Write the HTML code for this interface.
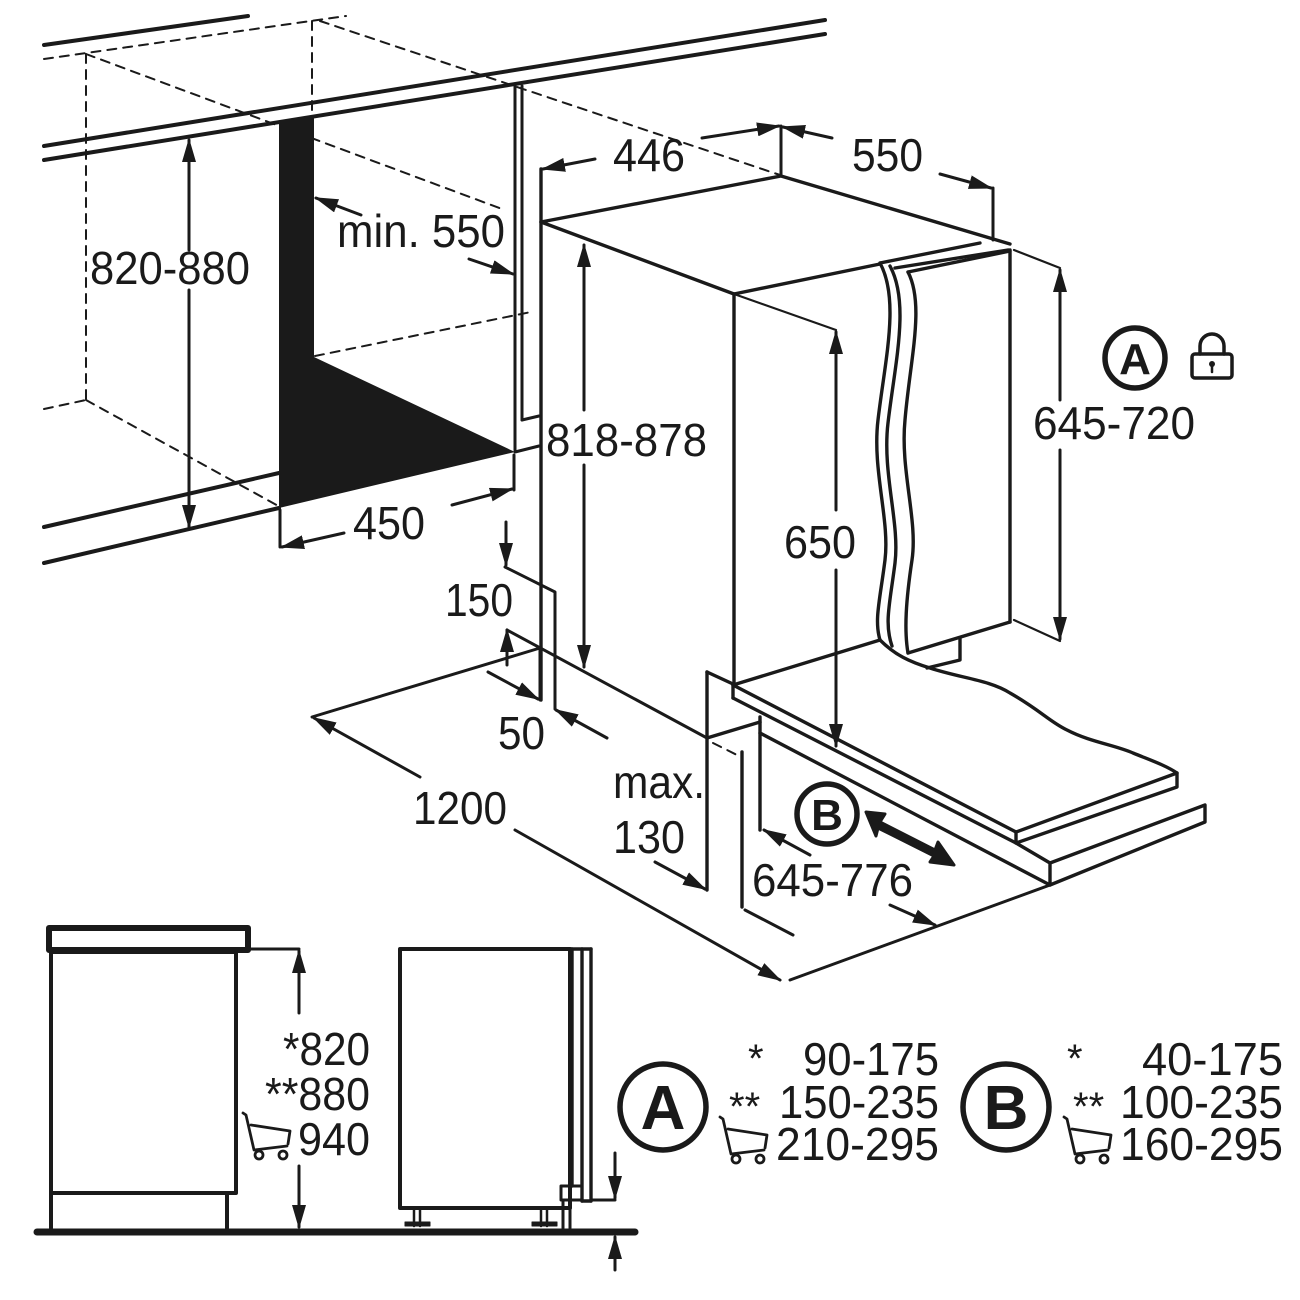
<!DOCTYPE html>
<html><head><meta charset="utf-8"><style>
html,body{margin:0;padding:0;background:#fff}
svg{display:block}
text{font-family:"Liberation Sans",sans-serif;fill:#1a1a1a}
</style></head><body>
<svg width="1300" height="1300" viewBox="0 0 1300 1300" xmlns="http://www.w3.org/2000/svg">
<defs>
<marker id="a" markerWidth="24" markerHeight="14" refX="22" refY="7" orient="auto" markerUnits="userSpaceOnUse">
<path d="M0,0 L24,7 L0,14 Z" fill="#1a1a1a"/></marker>
</defs>
<g stroke="#1a1a1a" fill="none" stroke-linecap="round" stroke-linejoin="round">
<line x1="44" y1="45" x2="248" y2="16" stroke-width="4"/>
<line x1="44" y1="146" x2="825" y2="20" stroke-width="4"/>
<line x1="44" y1="160" x2="825" y2="34" stroke-width="4"/>
<g stroke-width="2" stroke-dasharray="9,7">
<line x1="44" y1="59" x2="346" y2="16"/>
<line x1="86" y1="54" x2="86" y2="400"/>
<line x1="86" y1="54" x2="502" y2="209"/>
<line x1="312" y1="21" x2="312" y2="119"/>
<line x1="320" y1="21" x2="780" y2="175"/>
<line x1="44" y1="409" x2="86" y2="400"/>
<line x1="86" y1="400" x2="282" y2="508"/>
<line x1="315" y1="356" x2="531" y2="312"/>
<line x1="713" y1="743" x2="737" y2="755"/>
</g>
<polygon points="279,122 314,117 314,357 515,452 279,508" fill="#1a1a1a" stroke="none"/>
<line x1="44" y1="527" x2="279" y2="473" stroke-width="4"/>
<line x1="515" y1="452" x2="539" y2="446" stroke-width="3"/>
<line x1="44" y1="563" x2="279" y2="508" stroke-width="4"/>
<line x1="515" y1="84" x2="515" y2="450" stroke-width="3"/>
<line x1="522" y1="86" x2="522" y2="420" stroke-width="3"/>
<line x1="522" y1="420" x2="539" y2="416" stroke-width="3"/>
<g stroke-width="3">
<line x1="189" y1="250" x2="189" y2="140" marker-end="url(#a)"/>
<line x1="189" y1="290" x2="189" y2="527" marker-end="url(#a)"/>
<line x1="361" y1="215" x2="316" y2="198" marker-end="url(#a)"/>
<line x1="469" y1="259" x2="513" y2="274" marker-end="url(#a)"/>
<line x1="280" y1="510" x2="280" y2="547"/>
<line x1="344" y1="533" x2="282" y2="547" marker-end="url(#a)"/>
<line x1="514" y1="455" x2="514" y2="490"/>
<line x1="452" y1="505" x2="512" y2="489" marker-end="url(#a)"/>
</g>
<g stroke-width="3.4">
<polyline points="541,169 541,700"/>
<polyline points="541,222 781,176 1010,244"/>
<polyline points="541,222 734,294 880,264"/>
<line x1="734" y1="294" x2="734" y2="685"/>
<line x1="733" y1="685" x2="880" y2="640"/>
<line x1="1010" y1="250" x2="1010" y2="622"/>
<line x1="908" y1="653" x2="1010" y2="622"/>
<polyline points="960,638 960,660 927,668"/>
<line x1="880" y1="263" x2="980" y2="243"/>
<line x1="895" y1="268" x2="1008" y2="250"/>
<line x1="908" y1="272" x2="1010" y2="251"/>
<path d="M880,263 C900,300 885,360 878,420 C872,470 890,520 885,560 C880,600 874,620 880,640"/>
<path d="M890,266 C910,303 895,363 888,423 C882,473 900,523 895,563 C890,603 884,623 892,646"/>
<path d="M908,272 C925,305 910,360 905,420 C900,470 918,520 912,560 C906,600 904,630 908,653"/>
<line x1="733" y1="685" x2="1016" y2="832"/>
<line x1="733" y1="698" x2="1016" y2="843"/>
<line x1="733" y1="685" x2="733" y2="698"/>
<path d="M880,640 C895,655 910,662 930,668 C960,678 990,680 1010,693 C1040,710 1050,722 1067,730 C1090,742 1115,745 1133,753 C1150,760 1165,765 1177,773"/>
<polyline points="1016,832 1177,773 1177,787 1016,843 1016,832"/>
<polyline points="1016,843 1050,863 1205,805 1205,822 1050,885 1050,863"/>
<line x1="760" y1="733" x2="1050" y2="885"/>
<line x1="760" y1="717" x2="760" y2="830"/>
<polyline points="707,672 733,684"/>
<line x1="707" y1="672" x2="707" y2="890"/>
<line x1="707" y1="738" x2="760" y2="722"/>
<line x1="742" y1="752" x2="742" y2="907"/>
</g>
<g stroke-width="3">
<line x1="507" y1="630" x2="707" y2="738"/>
<polyline points="505,567 555,592 555,709"/>
<line x1="312" y1="717" x2="540" y2="648"/>
<line x1="540" y1="648" x2="540" y2="700"/>
<line x1="506" y1="522" x2="506" y2="565" marker-end="url(#a)"/>
<line x1="507" y1="665" x2="507" y2="630" marker-end="url(#a)"/>
<line x1="488" y1="672" x2="538" y2="699" marker-end="url(#a)"/>
<line x1="607" y1="738" x2="556" y2="710" marker-end="url(#a)"/>
<line x1="420" y1="777" x2="314" y2="718" marker-end="url(#a)"/>
<line x1="515" y1="830" x2="780" y2="980" marker-end="url(#a)"/>
<line x1="790" y1="980" x2="1050" y2="885"/>
<line x1="655" y1="862" x2="705" y2="889" marker-end="url(#a)"/>
<line x1="810" y1="855" x2="764" y2="830" marker-end="url(#a)"/>
<line x1="890" y1="905" x2="935" y2="925" marker-end="url(#a)"/>
<line x1="745" y1="910" x2="793" y2="935"/>
<line x1="595" y1="159" x2="543" y2="169" marker-end="url(#a)"/>
<line x1="541" y1="169" x2="541" y2="222"/>
<line x1="702" y1="138" x2="779" y2="126" marker-end="url(#a)"/>
<line x1="781" y1="126" x2="781" y2="176"/>
<line x1="832" y1="138" x2="783" y2="127" marker-end="url(#a)"/>
<line x1="940" y1="174" x2="991" y2="188" marker-end="url(#a)"/>
<line x1="993" y1="188" x2="993" y2="240"/>
<line x1="584" y1="410" x2="584" y2="245" marker-end="url(#a)"/>
<line x1="584" y1="465" x2="584" y2="667" marker-end="url(#a)"/>
<line x1="734" y1="294" x2="836" y2="330" stroke-width="2.2"/>
<line x1="836" y1="510" x2="836" y2="332" marker-end="url(#a)"/>
<line x1="836" y1="570" x2="836" y2="746" marker-end="url(#a)"/>
<line x1="1014" y1="250" x2="1060" y2="268" stroke-width="2.2"/>
<line x1="1014" y1="620" x2="1060" y2="641" stroke-width="2.2"/>
<line x1="1060" y1="400" x2="1060" y2="270" marker-end="url(#a)"/>
<line x1="1060" y1="450" x2="1060" y2="639" marker-end="url(#a)"/>
</g>
<path d="M866,812 L885,814 L880,822 L935,850 L938,842 L954,865 L930,862 L934,856 L878,828 L876,836 Z" fill="#1a1a1a" stroke-width="3"/>
<circle cx="1135" cy="358" r="30" stroke-width="5.5"/>
<circle cx="827" cy="814" r="30" stroke-width="5.5"/>
<rect x="1192" y="354" width="40" height="24" rx="3" stroke-width="3.5"/>
<path d="M1200,354 v-8 a12,12 0 0 1 24,0 v8" stroke-width="3.5"/>
<circle cx="1212" cy="364" r="3" fill="#1a1a1a" stroke="none"/>
<line x1="1212" y1="364" x2="1212" y2="372" stroke-width="2.5"/>

<rect x="49" y="928" width="199" height="22" stroke-width="6"/>
<rect x="51" y="952" width="185" height="241" stroke-width="4"/>
<polyline points="51,1193 51,1228" stroke-width="4"/>
<polyline points="227,1193 227,1228" stroke-width="4"/>
<line x1="37" y1="1232" x2="635" y2="1232" stroke-width="7"/>
<g stroke-width="3">
<line x1="250" y1="949" x2="299" y2="949"/>
<line x1="299" y1="1013" x2="299" y2="951" marker-end="url(#a)"/>
<line x1="299" y1="1166" x2="299" y2="1227" marker-end="url(#a)"/>
</g>
<rect x="400" y="949" width="170" height="259" stroke-width="4"/>
<line x1="572" y1="949" x2="572" y2="1186" stroke-width="3.4"/>
<line x1="582" y1="949" x2="582" y2="1201" stroke-width="3.4"/>
<line x1="591" y1="949" x2="591" y2="1201" stroke-width="3.4"/>
<line x1="570" y1="949" x2="591" y2="949" stroke-width="3.4"/>
<line x1="582" y1="1201" x2="591" y2="1201" stroke-width="3.4"/>
<rect x="561" y="1186" width="21" height="14" stroke-width="3"/>
<line x1="563" y1="1200" x2="563" y2="1228" stroke-width="3"/>
<line x1="570" y1="1200" x2="570" y2="1228" stroke-width="3"/>
<line x1="414" y1="1208" x2="414" y2="1226" stroke-width="2.5"/>
<line x1="420" y1="1208" x2="420" y2="1226" stroke-width="2.5"/>
<line x1="541" y1="1208" x2="541" y2="1226" stroke-width="2.5"/>
<line x1="547" y1="1208" x2="547" y2="1226" stroke-width="2.5"/>
<rect x="405" y="1222" width="25" height="4" fill="#1a1a1a" stroke-width="1"/>
<rect x="532" y="1222" width="25" height="4" fill="#1a1a1a" stroke-width="1"/>
<g stroke-width="3">
<line x1="591" y1="1200" x2="615" y2="1200"/>
<line x1="615" y1="1153" x2="615" y2="1198" marker-end="url(#a)"/>
<line x1="615" y1="1270" x2="615" y2="1237" marker-end="url(#a)"/>
</g>
<circle cx="663" cy="1107" r="43" stroke-width="5.5"/>
<circle cx="1006" cy="1107" r="43" stroke-width="5.5"/>
<g stroke-width="2.8">
<path d="M243,1113 L246,1115 L254,1150 L287,1146 M251,1125 L290,1131 L288,1144"/>
<circle cx="259" cy="1155" r="4"/><circle cx="283" cy="1155" r="4"/>
<path d="M720,1117 L723,1119 L731,1154 L764,1150 M728,1129 L767,1135 L765,1148"/>
<circle cx="736" cy="1159" r="4"/><circle cx="760" cy="1159" r="4"/>
<path d="M1064,1117 L1067,1119 L1075,1154 L1108,1150 M1072,1129 L1111,1135 L1109,1148"/>
<circle cx="1080" cy="1159" r="4"/><circle cx="1104" cy="1159" r="4"/>
</g>
</g>
<g font-size="46">
<text x="90" y="284" textLength="160" lengthAdjust="spacingAndGlyphs">820-880</text>
<text x="337" y="247" textLength="168" lengthAdjust="spacingAndGlyphs">min. 550</text>
<text x="353" y="539" textLength="72" lengthAdjust="spacingAndGlyphs">450</text>
<text x="613" y="171" textLength="72" lengthAdjust="spacingAndGlyphs">446</text>
<text x="852" y="171" textLength="71" lengthAdjust="spacingAndGlyphs">550</text>
<text x="546" y="456" textLength="161" lengthAdjust="spacingAndGlyphs">818-878</text>
<text x="784" y="558" textLength="72" lengthAdjust="spacingAndGlyphs">650</text>
<text x="1033" y="439" textLength="162" lengthAdjust="spacingAndGlyphs">645-720</text>
<text x="752" y="896" textLength="161" lengthAdjust="spacingAndGlyphs">645-776</text>
<text x="413" y="824" textLength="94" lengthAdjust="spacingAndGlyphs">1200</text>
<text x="445" y="616" textLength="68" lengthAdjust="spacingAndGlyphs">150</text>
<text x="498" y="749" textLength="47" lengthAdjust="spacingAndGlyphs">50</text>
<text x="613" y="798" textLength="92" lengthAdjust="spacingAndGlyphs">max.</text>
<text x="613" y="853" textLength="72" lengthAdjust="spacingAndGlyphs">130</text>
<text x="283" y="1065" textLength="87" lengthAdjust="spacingAndGlyphs">*820</text>
<text x="265" y="1110" textLength="105" lengthAdjust="spacingAndGlyphs">**880</text>
<text x="298" y="1155" textLength="72" lengthAdjust="spacingAndGlyphs">940</text>
<text x="748" y="1072" font-size="40">*</text>
<text x="803" y="1075" textLength="136" lengthAdjust="spacingAndGlyphs">90-175</text>
<text x="729" y="1120" font-size="40">**</text>
<text x="779" y="1118" textLength="160" lengthAdjust="spacingAndGlyphs">150-235</text>
<text x="776" y="1160" textLength="163" lengthAdjust="spacingAndGlyphs">210-295</text>
<text x="1067" y="1072" font-size="40">*</text>
<text x="1142" y="1075" textLength="141" lengthAdjust="spacingAndGlyphs">40-175</text>
<text x="1073" y="1120" font-size="40">**</text>
<text x="1120" y="1118" textLength="163" lengthAdjust="spacingAndGlyphs">100-235</text>
<text x="1120" y="1160" textLength="163" lengthAdjust="spacingAndGlyphs">160-295</text>
</g>
<g font-weight="bold" text-anchor="middle">
<text x="1135" y="374" font-size="44">A</text>
<text x="827" y="830" font-size="44">B</text>
<text x="663" y="1129" font-size="62">A</text>
<text x="1006" y="1129" font-size="62">B</text>
</g>
</svg>
</body></html>
